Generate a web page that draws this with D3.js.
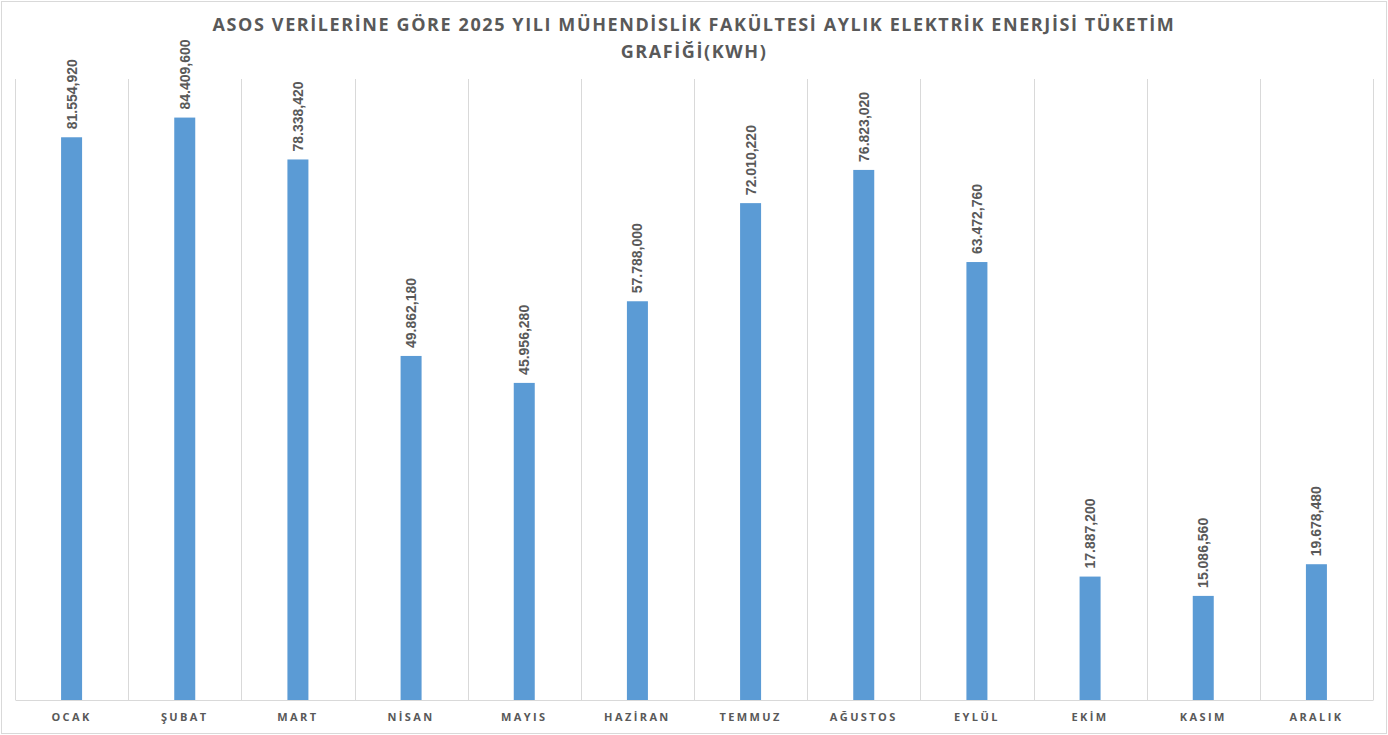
<!DOCTYPE html>
<html>
<head>
<meta charset="utf-8">
<script src="https://cdn.jsdelivr.net/npm/d3@7"></script>
<style>
  body { margin: 0; background: #fff; }
  svg { display: block; }
</style>
</head>
<body>
<svg id="chart" width="1388" height="735"></svg>
<script>
const months = ['OCAK', 'ŞUBAT', 'MART', 'NİSAN', 'MAYIS', 'HAZİRAN', 'TEMMUZ', 'AĞUSTOS', 'EYLÜL', 'EKİM', 'KASIM', 'ARALIK'];
const consumption = [81554920, 84409600, 78338420, 49862180, 45956280, 57788000, 72010220, 76823020, 63472760, 17887200, 15086560, 19678480];
const titleLines = ['ASOS VERİLERİNE GÖRE 2025 YILI MÜHENDİSLİK FAKÜLTESİ AYLIK ELEKTRİK ENERJİSİ TÜKETİM', 'GRAFİĞİ(KWH)'];
const yMax = 90000000;

const svg = d3.select('#chart');
const width = +svg.attr('width');
const height = +svg.attr('height');
const margin = { top: 79, right: 15, bottom: 35, left: 15 };
const innerWidth = width - margin.left - margin.right;
const innerHeight = height - margin.top - margin.bottom;

// outer border like the Excel chart area
svg.append('rect')
  .attr('x', 1.5).attr('y', 1.5)
  .attr('width', width - 3).attr('height', height - 3)
  .attr('fill', '#fff')
  .attr('stroke', '#d9d9d9');

const x = d3.scaleBand()
  .domain(months)
  .range([0, innerWidth])
  .paddingInner(0)
  .paddingOuter(0);

const y = d3.scaleLinear()
  .domain([0, yMax])
  .range([innerHeight, 0]);

const g = svg.append('g')
  .attr('transform', `translate(${margin.left},${margin.top})`);

// vertical gridlines at category borders
const borders = months.map(m => x(m)).concat([innerWidth]);
g.selectAll('line.grid')
  .data(borders)
  .enter()
  .append('line')
  .attr('class', 'grid')
  .attr('x1', d => Math.round(d) + 0.5)
  .attr('x2', d => Math.round(d) + 0.5)
  .attr('y1', 0)
  .attr('y2', innerHeight)
  .attr('stroke', '#d9d9d9');

// bars
const barW = 21;
g.selectAll('rect.bar')
  .data(consumption)
  .enter()
  .append('rect')
  .attr('class', 'bar')
  .attr('x', (d, i) => x(months[i]) + x.bandwidth() / 2 - barW / 2)
  .attr('y', d => y(d))
  .attr('width', barW)
  .attr('height', d => innerHeight - y(d))
  .attr('fill', '#5b9bd5');

// x axis
const xAxis = g.append('g')
  .attr('transform', `translate(0,${innerHeight})`)
  .call(d3.axisBottom(x).tickSize(0).tickPadding(13));
xAxis.select('.domain').attr('stroke', '#d9d9d9');
xAxis.selectAll('text')
  .attr('font-family', '"Open Sans", sans-serif')
  .attr('font-weight', 'bold')
  .attr('font-size', '11px')
  .attr('letter-spacing', '2.4px')
  .attr('fill', '#595959');

// value labels, rotated
const fmt = v => d3.format(',')(v).replace(',', '.');
g.selectAll('text.val')
  .data(consumption)
  .enter()
  .append('text')
  .attr('class', 'val')
  .attr('transform', (d, i) => `translate(${x(months[i]) + x.bandwidth() / 2 + 5},${y(d) - 8}) rotate(-90)`)
  .attr('text-anchor', 'start')
  .attr('font-family', '"Liberation Sans", Arial, sans-serif')
  .attr('font-weight', 'bold')
  .attr('font-size', '14px')
  .attr('fill', '#595959')
  .text(fmt);

// title
svg.append('g')
  .selectAll('text')
  .data(titleLines)
  .enter()
  .append('text')
  .attr('x', width / 2)
  .attr('y', (d, i) => 31 + i * 27)
  .attr('text-anchor', 'middle')
  .attr('font-family', '"Open Sans", sans-serif')
  .attr('font-weight', 'bold')
  .attr('font-size', '18px')
  .attr('letter-spacing', '1.6px')
  .attr('fill', '#595959')
  .text(d => d);
</script>
</body>
</html>
